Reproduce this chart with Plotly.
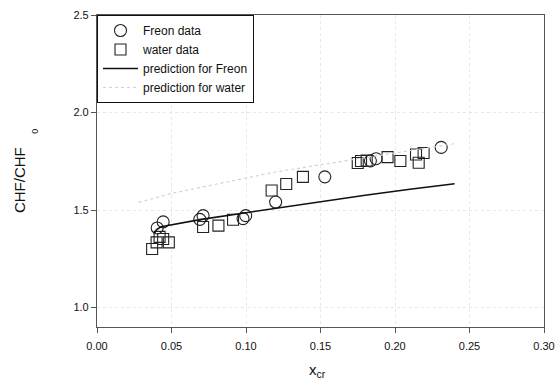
import plotly.graph_objects as go

# Freon data
freon_x = [0.0404, 0.0444, 0.069, 0.0712, 0.098, 0.0998, 0.1199, 0.1529, 0.1835, 0.1873, 0.231]
freon_y = [1.408, 1.439, 1.452, 1.471, 1.456, 1.471, 1.541, 1.670, 1.752, 1.763, 1.821]

# water data
water_x = [0.037, 0.040, 0.042, 0.0444, 0.0482, 0.0712, 0.0815, 0.0913, 0.1172, 0.127, 0.1382,
           0.175, 0.1772, 0.181, 0.195, 0.2036, 0.2141, 0.2159, 0.2192]
water_y = [1.300, 1.334, 1.362, 1.351, 1.334, 1.413, 1.420, 1.450, 1.600, 1.633, 1.670,
           1.741, 1.751, 1.754, 1.771, 1.751, 1.785, 1.742, 1.792]

# prediction for Freon
pf_x = [0.0385, 0.040, 0.043, 0.05, 0.07, 0.10, 0.12, 0.15, 0.18, 0.21, 0.24]
pf_y = [1.380, 1.400, 1.414, 1.423, 1.452, 1.486, 1.509, 1.543, 1.576, 1.606, 1.635]

# prediction for water
pw_x = [0.028, 0.05, 0.0886, 0.12, 0.1734, 0.21, 0.24]
pw_y = [1.539, 1.585, 1.646, 1.695, 1.761, 1.805, 1.840]

x_ticks = [0.00, 0.05, 0.10, 0.15, 0.20, 0.25, 0.30]
x_tick_labels = ["0.00", "0.05", "0.10", "0.15", "0.20", "0.25", "0.30"]
y_ticks = [1.0, 1.5, 2.0, 2.5]
y_tick_labels = ["1.0", "1.5", "2.0", "2.5"]

fig = go.Figure()
fig.add_trace(go.Scatter(x=freon_x, y=freon_y, mode="markers", name="Freon data",
                         marker=dict(symbol="circle-open", size=12, color="#222",
                                     line=dict(width=1.1))))
fig.add_trace(go.Scatter(x=water_x, y=water_y, mode="markers", name="water data",
                         marker=dict(symbol="square-open", size=11, color="#222",
                                     line=dict(width=1.1))))
fig.add_trace(go.Scatter(x=pf_x, y=pf_y, mode="lines", name="prediction for Freon",
                         line=dict(color="#111", width=1.6)))
fig.add_trace(go.Scatter(x=pw_x, y=pw_y, mode="lines", name="prediction for water",
                         line=dict(color="#d2d2d2", width=1.2, dash="dot")))

axis_common = dict(showline=True, linecolor="#555", linewidth=1.2, mirror=True,
                   ticks="outside", ticklen=5, tickcolor="#555", tickwidth=1,
                   showgrid=True, gridcolor="#e8e8e8", griddash="dot", gridwidth=1,
                   zeroline=False, automargin=False, ticklabeloverflow="allow",
                   tickfont=dict(size=11, color="#111"))

fig.update_layout(
    width=556, height=384,
    margin=dict(l=97, r=12, t=15, b=57),
    plot_bgcolor="white", paper_bgcolor="white",
    font=dict(family="Liberation Sans, Arial, sans-serif", color="#111"),
    xaxis=dict(range=[0, 0.30], tickvals=x_ticks, ticktext=x_tick_labels,
               ticklabelstandoff=4, **axis_common),
    yaxis=dict(range=[0.9, 2.5], tickvals=y_ticks, ticktext=y_tick_labels,
               **axis_common),
    legend=dict(x=0, y=1, xanchor="left", yanchor="top", bgcolor="white",
                bordercolor="#111", borderwidth=1, font=dict(size=12),
                tracegroupgap=0, itemwidth=35),
    showlegend=True,
    annotations=[
        dict(text="CHF/CHF", xref="paper", yref="paper", x=-0.1745, y=0.471,
             xanchor="center", yanchor="middle", textangle=-90, showarrow=False,
             font=dict(size=15, color="#111")),
        dict(text="0", xref="paper", yref="paper", x=-0.1387, y=0.626,
             xanchor="center", yanchor="middle", textangle=-90, showarrow=False,
             font=dict(size=9, color="#111")),
        dict(text="x<sub>cr</sub>", xref="paper", yref="paper", x=0.493, y=-0.14,
             xanchor="center", yanchor="middle", showarrow=False,
             font=dict(size=15, color="#111")),
    ],
)

fig.write_html("out.html", config={"displayModeBar": False},
               post_script="document.body.style.margin='0';document.body.style.overflow='hidden';")
